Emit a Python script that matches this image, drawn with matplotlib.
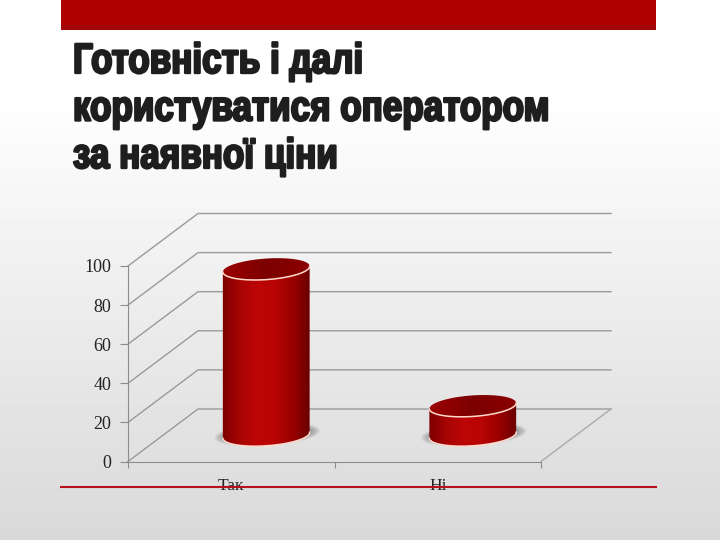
import numpy as np
import matplotlib
matplotlib.use("Agg")
import matplotlib.pyplot as plt
import matplotlib.patheffects as pe
from matplotlib.lines import Line2D
from matplotlib.patches import Polygon, Rectangle
from matplotlib.colors import LinearSegmentedColormap
from matplotlib.transforms import Affine2D

# data
categories = ["Так", "Ні"]
values = [85, 15]
y_ticks = [0, 20, 40, 60, 80, 100]
title_lines = ["Готовність і далі", "користуватися оператором", "за наявної ціни"]

W, H = 720, 540
fig = plt.figure(figsize=(W / 100, H / 100), dpi=100)


class Squeeze(pe.AbstractPathEffect):
    # narrows the glyphs and thickens them, nothing here has an Impact-like font
    def __init__(self, x0, y0, sx, sy, lw):
        super().__init__()
        self.tr = Affine2D().translate(-x0, -y0).scale(sx, sy).translate(x0, y0)
        self.lw = lw

    def draw_path(self, renderer, gc, tpath, affine, rgbFace=None):
        gc0 = renderer.new_gc()
        gc0.copy_properties(gc)
        gc0.set_foreground(rgbFace)
        gc0.set_linewidth(self.lw)
        renderer.draw_path(gc0, tpath, affine + self.tr, rgbFace)
        gc0.restore()


# slide background
bg = fig.add_axes([0, 0, 1, 1], zorder=-1)
bg.axis("off")
grad = np.concatenate([np.ones(90), np.linspace(1, 0.85, 450)]).reshape(-1, 1)
bg.imshow(grad, cmap="gray", vmin=0, vmax=1, aspect="auto", extent=[0, W, H, 0])
bg.set_xlim(0, W)
bg.set_ylim(H, 0)
bg.add_patch(Rectangle((61, 0), 595, 30, color="#ae0000", lw=0))
bg.add_patch(Rectangle((61, 25), 595, 5, color="#a30808", lw=0))

for i, line in enumerate(title_lines):
    base = 73 + i * 47.5
    fig.text(73 / W, 1 - base / H, line, fontsize=28.5, color="#1e1e1e",
             family="Liberation Sans", weight="bold", va="baseline",
             path_effects=[Squeeze(73, H - base, 0.885, 1.07, 1.7)])

# chart: front plane of the 3d box
ax = fig.add_axes([128 / W, 1 - 461.5 / H, 413 / W, 195.5 / H])
ax.patch.set_alpha(0)

px = len(categories) / 413   # data per pixel, x
py = 100 / 195.5             # data per pixel, y
dx, dy = 70 * px, 52.5 * py  # depth offset

grid = "#9a9a9a"
for v in y_ticks:
    ax.plot([0, dx, len(categories) + dx], [v, v + dy, v + dy], color=grid, lw=1,
            clip_on=False, zorder=1)
ax.plot([len(categories), len(categories) + dx], [0, dy], color="#aaaaaa", lw=1, clip_on=False, zorder=1)

for s in ["top", "right"]:
    ax.spines[s].set_visible(False)
for s in ["left", "bottom"]:
    ax.spines[s].set_color("#8c8c8c")
ax.set_yticks(y_ticks)
ax.set_yticklabels([str(v) for v in y_ticks], family="Liberation Serif", fontsize=13, color="#222222")
ax.tick_params(axis="y", length=6, color="#8c8c8c", pad=6)
ax.set_xticks(range(len(categories) + 1))
ax.set_xticklabels([])
ax.set_xticks(np.arange(len(categories)) + 0.5, minor=True)
ax.set_xticklabels(categories, minor=True, family="Liberation Serif", fontsize=12.5, color="#222222")
ax.tick_params(axis="x", which="major", length=4, color="#8c8c8c")
ax.tick_params(axis="x", which="minor", length=0, pad=12)

body_cmap = LinearSegmentedColormap.from_list(
    "body", ["#7c0000", "#a80404", "#bd0606", "#b80404", "#9a0000", "#6a0000"])
top_cmap = LinearSegmentedColormap.from_list("top", ["#9c0000", "#7c0000", "#8c0000"])


def ellipse(xc, yc, t, rx=43.5, ry=10.5, tilt=4.0):
    # tilted ellipse in pixels, returned in data units
    a = np.deg2rad(tilt)
    ex, ey = rx * np.cos(t), ry * np.sin(t)
    return xc + (ex * np.cos(a) - ey * np.sin(a)) * px, yc + (ex * np.sin(a) + ey * np.cos(a)) * py


t_full = np.linspace(0, 2 * np.pi, 90)
t_front = np.linspace(0, -np.pi, 60)

for i, v in enumerate(values):
    xc = i + 0.5 + dx / 2
    y0 = dy / 2
    y1 = y0 + v

    # floor shadow
    for k in range(8):
        sx, sy = ellipse(xc + 1 * px, y0 + 1 * py, t_full, rx=53 - k * 1.4, ry=11.5 - k * 0.4)
        ax.fill(sx, sy, color="#505050", alpha=0.08, lw=0, clip_on=False, zorder=2)

    # body outline: front half of both ellipses
    bx, by = ellipse(xc, y0, t_front)
    tx, ty = ellipse(xc, y1, t_front)
    poly = Polygon(np.column_stack([np.r_[bx, tx[::-1]], np.r_[by, ty[::-1]]]), closed=True, fc="none", ec="none")
    ax.add_patch(poly)
    im = ax.imshow(np.linspace(0, 1, 128).reshape(1, -1), cmap=body_cmap, aspect="auto",
                   extent=[xc - 44 * px, xc + 44 * px, y0 - 15 * py, y1 + 15 * py], zorder=3)
    im.set_clip_box(fig.bbox)
    im.set_clip_path(poly)

    # pale rim around the base
    ax.plot(bx, by, color="#ffd9cc", lw=1.1, clip_on=False, zorder=4)

    # lid
    lx, ly = ellipse(xc, y1, t_full)
    lid = Polygon(np.column_stack([lx, ly]), closed=True, fc="none", ec="none")
    ax.add_patch(lid)
    im2 = ax.imshow(np.linspace(0, 1, 64).reshape(1, -1), cmap=top_cmap, aspect="auto",
                    extent=[xc - 44 * px, xc + 44 * px, y1 - 12 * py, y1 + 12 * py], zorder=5)
    im2.set_clip_box(fig.bbox)
    im2.set_clip_path(lid)
    ax.plot(tx, ty, color="#ffd9cc", lw=1.1, clip_on=False, zorder=6)

ax.set_xlim(0, len(categories))
ax.set_ylim(0, 100)

# slide rule over the axis labels
fig.add_artist(Line2D([61 / W, 656 / W], [1 - 487 / H, 1 - 487 / H], color="#b5121b", lw=1.5, zorder=5))

fig.savefig("out.png", dpi=100)
